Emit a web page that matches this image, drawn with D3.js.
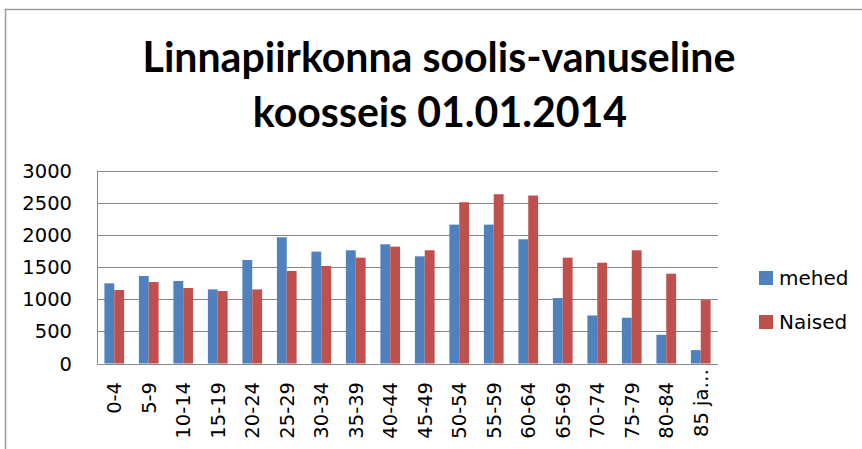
<html>
 <head>
  <meta charset="utf-8">
  <title> Linnapiirkonna soolis-vanuseline koosseis </title>
  <script src="https://d3js.org/d3.v7.min.js"></script>
  <style>
   body { margin: 0; background: #fff; }
   .grid line { stroke: #868686; shape-rendering: crispEdges; }
   .lbl { font-family: "DejaVu Sans", sans-serif; font-size: 19.5px; fill: #000; }
   .title { font-family: Lato, "Open Sans", sans-serif; font-weight: bold; fill: #000; }
  </style>
 </head>
 <body>
  <script>
   // data
   var categories = ["0-4","5-9","10-14","15-19","20-24","25-29","30-34","35-39","40-44",
                     "45-49","50-54","55-59","60-64","65-69","70-74","75-79","80-84","85 ja…"];
   var mehed  = [1246,1360,1282,1152,1609,1962,1739,1760,1853,1666,2159,2159,1931,1017,747,711,446,208];
   var naised = [1142,1266,1173,1126,1152,1438,1516,1645,1817,1760,2507,2631,2611,1645,1567,1760,1396,986];
   var seriesNames = ["mehed","Naised"];
   var seriesColors = ["#4F81BD","#C0504D"];
   var yTicks = [0,500,1000,1500,2000,2500,3000];
   var titleLines = ["Linnapiirkonna soolis-vanuseline","koosseis 01.01.2014"];

   var w = 862, h = 449;
   var svg = d3.select("body")
               .append("svg")
               .attr("width", w)
               .attr("height", h);

   // outer chart border
   svg.append("path")
      .attr("d", "M5.5," + h + "V9.5H" + w)
      .attr("fill", "none")
      .attr("stroke", "#9a9a9a")
      .attr("stroke-width", 1.5);

   var x0 = d3.scaleBand()
              .domain(categories)
              .range([97, 718])
              .paddingInner(0.4286)
              .paddingOuter(0.2143);
   var x1 = d3.scaleBand()
              .domain(seriesNames)
              .range([0, x0.bandwidth()]);
   var y = d3.scaleLinear()
             .domain([0, 3000])
             .range([363.5, 170.5]);

   // gridlines
   svg.append("g")
      .attr("class", "grid")
      .selectAll("line")
      .data(yTicks)
      .enter()
      .append("line")
      .attr("x1", 97)
      .attr("x2", 718)
      .attr("y1", function(d) { return Math.round(y(d)) + 0.5; })
      .attr("y2", function(d) { return Math.round(y(d)) + 0.5; });
   svg.append("line")
      .attr("x1", 97.5).attr("x2", 97.5)
      .attr("y1", y(3000)).attr("y2", y(0))
      .attr("stroke", "#868686");

   // y labels
   svg.append("g")
      .selectAll("text")
      .data(yTicks)
      .enter()
      .append("text")
      .attr("class", "lbl")
      .attr("x", 72)
      .attr("y", function(d) { return y(d); })
      .attr("dy", "0.36em")
      .attr("text-anchor", "end")
      .text(function(d) { return d; });

   // bars
   var rows = categories.map(function(c, i) {
    return { cat: c, vals: [{ s: "mehed", v: mehed[i] }, { s: "Naised", v: naised[i] }] };
   });
   svg.append("g")
      .selectAll("g")
      .data(rows)
      .enter()
      .append("g")
      .attr("transform", function(d) { return "translate(" + x0(d.cat) + ",0)"; })
      .selectAll("rect")
      .data(function(d) { return d.vals; })
      .enter()
      .append("rect")
      .attr("x", function(d) { return x1(d.s); })
      .attr("width", x1.bandwidth())
      .attr("y", function(d) { return y(d.v); })
      .attr("height", function(d) { return y(0) - y(d.v); })
      .attr("fill", function(d) { return seriesColors[seriesNames.indexOf(d.s)]; });

   // x labels, rotated (the truncated one sits closer to the axis)
   svg.append("g")
      .selectAll("text")
      .data(categories)
      .enter()
      .append("text")
      .attr("class", "lbl")
      .attr("text-anchor", "end")
      .attr("dy", "0.36em")
      .attr("transform", function(d) {
       var top = d.slice(-1) === "…" ? 369 : 382;
       return "translate(" + (x0(d) + x0.bandwidth() / 2) + "," + top + ") rotate(-90)";
      })
      .text(function(d) { return d; });

   // legend
   var legend = svg.append("g")
                   .selectAll("g")
                   .data(seriesNames)
                   .enter()
                   .append("g")
                   .attr("transform", function(d, i) { return "translate(759," + (271 + i * 44) + ")"; });
   legend.append("rect")
         .attr("width", 14)
         .attr("height", 14)
         .attr("fill", function(d, i) { return seriesColors[i]; });
   legend.append("text")
         .attr("class", "lbl")
         .attr("x", 20)
         .attr("y", 13.5)
         .style("font-size", "20px")
         .text(function(d) { return d; });

   // title, sized to the width of the first line
   var title = svg.append("g");
   var t1 = title.append("text")
                 .attr("class", "title")
                 .attr("x", 439)
                 .attr("y", 72)
                 .attr("text-anchor", "middle")
                 .style("font-size", "40px")
                 .text(titleLines[0]);
   var fs = 40 * 593 / t1.node().getComputedTextLength();
   t1.style("font-size", fs + "px");
   title.append("text")
        .attr("class", "title")
        .attr("x", 440)
        .attr("y", 127)
        .attr("text-anchor", "middle")
        .style("font-size", fs + "px")
        .text(titleLines[1]);
  </script>
 </body>
</html>
